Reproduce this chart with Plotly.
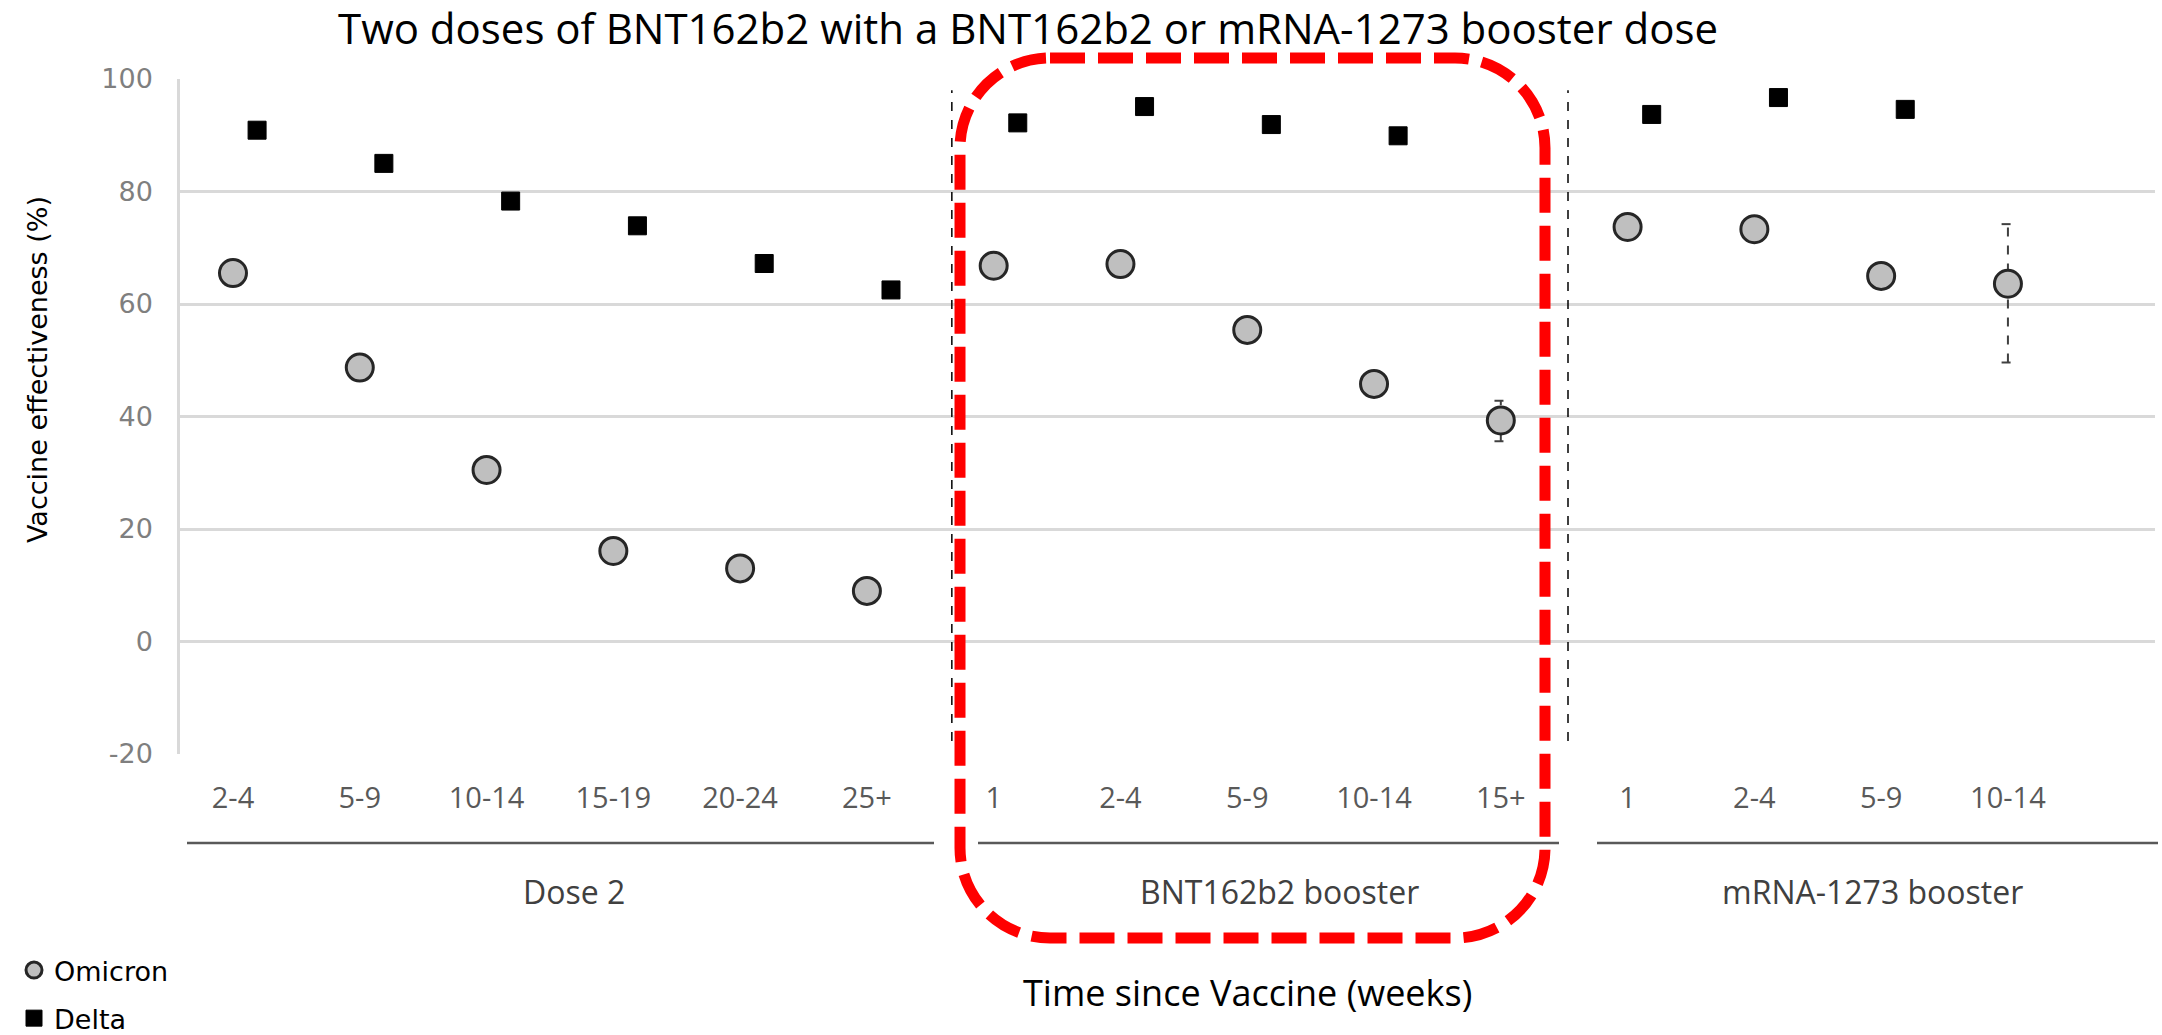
import plotly.graph_objects as go

# ---- data ----
dose2_labels = ["2-4", "5-9", "10-14", "15-19", "20-24", "25+"]
bnt_labels = ["1", "2-4", "5-9", "10-14", "15+"]
mrna_labels = ["1", "2-4", "5-9", "10-14"]
group_names = ["Dose 2", "BNT162b2 booster", "mRNA-1273 booster"]

omicron = [65.5, 48.7, 30.5, 16.1, 13.0, 9.0,
           66.8, 67.1, 55.4, 45.8, 39.3,
           73.7, 73.3, 65.0, 63.6]
omicron_lo = [None] * 10 + [35.6] + [None] * 3 + [49.6]
omicron_hi = [None] * 10 + [42.8] + [None] * 3 + [74.2]
delta = [90.9, 85.0, 78.3, 73.9, 67.2, 62.5,
         92.2, 95.1, 91.9, 89.9, None,
         93.7, 96.7, 94.6, None]

y_ticks = [-20, 0, 20, 40, 60, 80, 100]
y_ticktext = ["-20", "0", "20", "40", "60", "80", "100"]

tick_labels = dose2_labels + bnt_labels + mrna_labels
xs = list(range(len(tick_labels)))
delta_offset = 0.19
xs_delta = [x + delta_offset for x in xs]

# ---- layout geometry (pixels) ----
W, H = 2162, 1035
L, R, T, B = 180, 2155, 79, 754


def px(xp):
    return (xp - L) / (R - L)


def py(yp):
    return (B - yp) / (B - T)


fig = go.Figure()

# error bars (dashed) built from data
ex, ey = [], []
cap = 0.05
for x, lo, hi in zip(xs, omicron_lo, omicron_hi):
    if lo is None or hi is None:
        continue
    ex += [x, x, None, x - cap, x + cap, None, x - cap, x + cap, None]
    ey += [lo, hi, None, lo, lo, None, hi, hi, None]
fig.add_trace(go.Scatter(x=ex, y=ey, mode="lines", showlegend=False,
                         line=dict(color="#404040", width=2, dash="dash"),
                         hoverinfo="skip"))

fig.add_trace(go.Scatter(
    x=xs, y=omicron, mode="markers", name="Omicron", legendgroup="o",
    marker=dict(symbol="circle", size=27, color="#bfbfbf",
                line=dict(color="#262626", width=3))))
fig.add_trace(go.Scatter(
    x=xs_delta, y=delta, mode="markers", name="Delta", legendgroup="d",
    marker=dict(symbol="square", size=18, color="#000000",
                line=dict(color="#000000", width=1))))

shapes = []
# vertical dashed separators
for xv in (5.67, 10.53):
    shapes.append(dict(type="line", xref="x", yref="y", x0=xv, x1=xv,
                       y0=-17.7, y1=98, line=dict(color="#000000", width=1.5, dash="dash")))
# group underline lines
for x0p, x1p in ((187, 934), (978, 1559), (1597, 2158)):
    shapes.append(dict(type="line", xref="paper", yref="paper",
                       x0=px(x0p), x1=px(x1p), y0=py(843), y1=py(843),
                       line=dict(color="#595959", width=2.5)))

# red dashed rounded rectangle
rx0, rx1, ry0, ry1, rr = 960, 1545, 58, 938, 90
k = 0.5523 * rr
pts = [
    ("M", [(rx0 + rr, ry0)]),
    ("L", [(rx1 - rr, ry0)]),
    ("C", [(rx1 - rr + k, ry0), (rx1, ry0 + rr - k), (rx1, ry0 + rr)]),
    ("L", [(rx1, ry1 - rr)]),
    ("C", [(rx1, ry1 - rr + k), (rx1 - rr + k, ry1), (rx1 - rr, ry1)]),
    ("L", [(rx0 + rr, ry1)]),
    ("C", [(rx0 + rr - k, ry1), (rx0, ry1 - rr + k), (rx0, ry1 - rr)]),
    ("L", [(rx0, ry0 + rr)]),
    ("C", [(rx0, ry0 + rr - k), (rx0 + rr - k, ry0), (rx0 + rr, ry0)]),
]
path = ""
for cmd, pp in pts:
    path += cmd + " " + " ".join(f"{px(a):.5f},{py(b):.5f}" for a, b in pp) + " "
path += "Z"
shapes.append(dict(type="path", xref="paper", yref="paper", path=path,
                   line=dict(color="#ff0000", width=11, dash="35px,13px"),
                   layer="above"))

annotations = []
for name, cx in zip(group_names, (574, 1279, 1872)):
    annotations.append(dict(text=name, xref="paper", yref="paper", x=px(cx), y=py(891),
                            xanchor="center", yanchor="middle", showarrow=False,
                            font=dict(family="Open Sans", size=32, color="#404040")))
annotations.append(dict(text="Time since Vaccine (weeks)", xref="paper", yref="paper",
                        x=px(1247), y=py(992), xanchor="center", yanchor="middle",
                        showarrow=False,
                        font=dict(family="Open Sans", size=36, color="#000000")))
annotations.append(dict(text="Vaccine effectiveness (%)", xref="paper", yref="paper",
                        x=px(37), y=py(370), xanchor="center", yanchor="middle",
                        textangle=-90, showarrow=False,
                        font=dict(family="DejaVu Sans", size=27, color="#000000")))
annotations.append(dict(text="Two doses of BNT162b2 with a BNT162b2 or mRNA-1273 booster dose",
                        xref="paper", yref="paper", x=px(1028), y=py(28),
                        xanchor="center", yanchor="middle", showarrow=False,
                        font=dict(family="Open Sans", size=42, color="#000000")))

fig.update_layout(
    width=W, height=H,
    margin=dict(l=L, r=W - R, t=T, b=H - B, autoexpand=False),
    paper_bgcolor="#ffffff", plot_bgcolor="#ffffff",
    shapes=shapes, annotations=annotations,
    showlegend=True,
    legend=dict(x=px(14), y=py(946), xanchor="left", yanchor="top",
                traceorder="grouped", tracegroupgap=10,
                font=dict(family="DejaVu Sans", size=27, color="#000000"),
                bgcolor="rgba(0,0,0,0)"),
    xaxis=dict(range=[-0.418, 15.16], showgrid=False, zeroline=False, showline=False,
               automargin=False,
               tickmode="array", tickvals=xs, ticktext=tick_labels,
               ticks="outside", ticklen=18, tickcolor="rgba(0,0,0,0)",
               tickfont=dict(family="Open Sans", size=29, color="#595959")),
    yaxis=dict(range=[-20, 100], tickmode="array", tickvals=y_ticks, ticktext=y_ticktext,
               automargin=False,
               showgrid=True, gridcolor="#d9d9d9", gridwidth=2.5,
               zeroline=True, zerolinecolor="#d9d9d9", zerolinewidth=2.5,
               showline=True, linecolor="#d9d9d9", linewidth=2.5,
               ticks="outside", ticklen=19, tickcolor="rgba(0,0,0,0)",
               tickfont=dict(family="DejaVu Sans", size=27, color="#7f7f7f")),
)

fig.write_html("out.html", config={"displayModeBar": False},
               post_script="document.body.style.margin='0';")
